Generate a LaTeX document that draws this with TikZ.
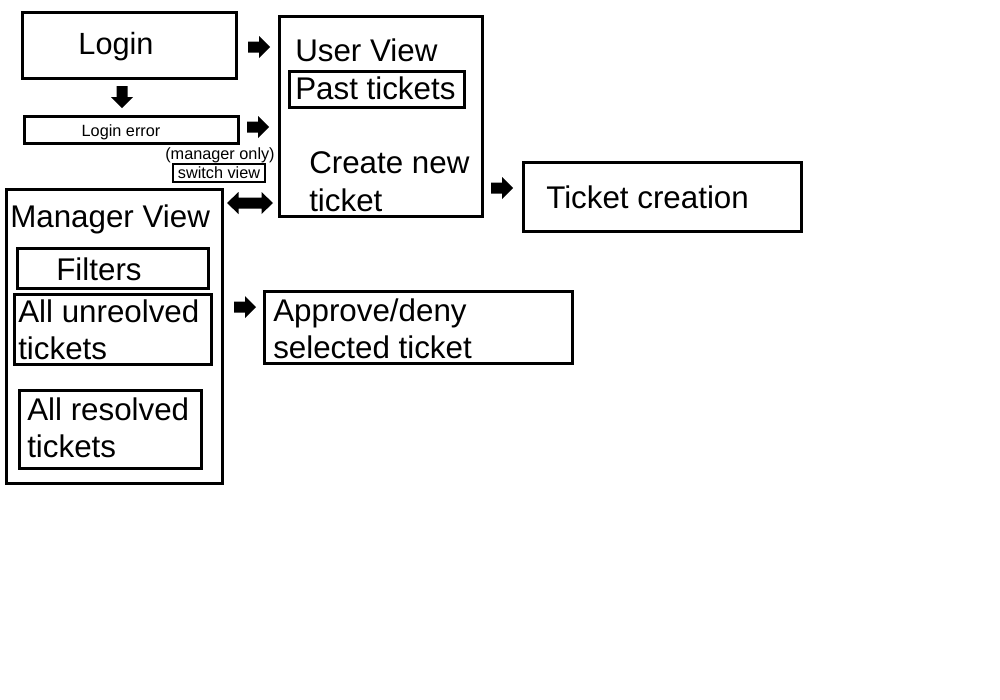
\documentclass[tikz,border=0pt]{standalone}
\usepackage{fontspec}
\setmainfont{Liberation Sans}
\tikzset{
  box/.style={draw=black, line width=2.25pt},
  thinbox/.style={draw=black, line width=1.6pt},
  big/.style={font=\fontsize{23.5}{28}\selectfont, inner sep=0pt},
  small/.style={font=\fontsize{12.2}{14}\selectfont, inner sep=0pt},
  rarrow/.pic={\fill[black] (-11,-5.5) -- (0,-5.5) -- (0,-11) -- (11,0) -- (0,11) -- (0,5.5) -- (-11,5.5) -- cycle;},
  darrow/.pic={\fill[black] (-11.5,-5.5) -- (11.5,-5.5) -- (11.5,-11) -- (23,0) -- (11.5,11) -- (11.5,5.5) -- (-11.5,5.5) -- (-11.5,11) -- (-23,0) -- (-11.5,-11) -- cycle;}
}
\begin{document}
\begin{tikzpicture}[x=0.75pt, y=-0.75pt]
\useasboundingbox[fill=white] (0,0) rectangle (1000,700);

% Login
\draw[box] (22,12) rectangle (236,78);
\node[big, font=\fontsize{23}{27}\selectfont, anchor=base] (login) at (116,54) {Login};
\pic at (122,97) [rotate=-90] {rarrow};

% Login error
\draw[box] (24,116) rectangle (238,143);
\node[small, anchor=base] (loginerr) at (121,136) {Login error};

\pic at (259,47) {rarrow};
\pic at (258,127) {rarrow};

% switch view
\node[small, anchor=base] (mgronly) at (220,159) {(manager only)};
\draw[thinbox] (173,164) rectangle (265,182);
\node[small, anchor=base] (switch) at (219,178) {switch view};
\pic at (250,203) {darrow};

% User View
\draw[box] (279,16) rectangle (482,216);
\node[big, anchor=base west] (userview) at (295,61) {User View};
\draw[box] (289,71) rectangle (464,107);
\node[big, anchor=base west] (past) at (295,99) {Past tickets};
\node[big, anchor=base west] (create1) at (309,173) {Create new};
\node[big, anchor=base west] (create2) at (309,211) {ticket};

\pic at (502,188) {rarrow};

% Ticket creation
\draw[box] (523,162) rectangle (801,231);
\node[big, anchor=base west] (tcreate) at (546,208) {Ticket creation};

% Manager View
\draw[box] (6,189) rectangle (222,483);
\node[big, anchor=base west] (mgrview) at (10,227) {Manager View};
\draw[box] (17,248) rectangle (208,288);
\node[big, anchor=base] (filters) at (99,280) {Filters};
\draw[box] (14,294) rectangle (211,364);
\node[big, anchor=base west] (unres1) at (18,322) {All unreolved};
\node[big, anchor=base west] (unres2) at (18,359) {tickets};
\draw[box] (19,390) rectangle (201,468);
\node[big, anchor=base west] (res1) at (27,420) {All resolved};
\node[big, anchor=base west] (res2) at (27,457) {tickets};

\pic at (245,307) {rarrow};

% Approve/deny
\draw[box] (264,291) rectangle (572,363);
\node[big, anchor=base west] (appr1) at (273,321) {Approve/deny};
\node[big, anchor=base west] (appr2) at (273,358) {selected ticket};
\end{tikzpicture}
\end{document}
